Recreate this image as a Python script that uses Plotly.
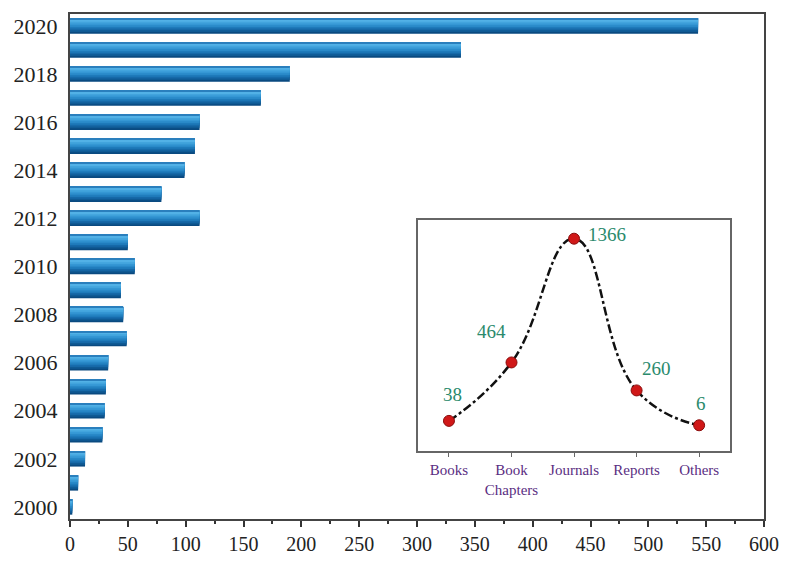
import plotly.graph_objects as go

# Publications per year
years = list(range(2000, 2021))
counts = [2, 7, 13, 28, 30, 31, 33, 49, 46, 44, 56, 50, 112, 79, 99, 108, 112, 165, 190, 338, 543]
year_ticks = list(range(2000, 2021, 2))
x_ticks = list(range(0, 601, 50))

# Publication types (inset)
doc_types = ["Books", "Book Chapters", "Journals", "Reports", "Others"]
doc_type_labels = ["Books", "Book<br>Chapters", "Journals", "Reports", "Others"]
doc_counts = [38, 464, 1366, 260, 6]
label_shifts = [(4, 26), (-20, 31), (33, 4), (20, 22), (2, 22)]

SERIF = "Liberation Serif, Times New Roman, serif"

fig = go.Figure()

# Shaded bars: nested layers from dark (bottom) to light (top), then a thin top edge
bar_h = 0.64
shades = ["#0a4a80", "#0f5a94", "#1669a8", "#1e7aba", "#2989c8", "#3597d4", "#42a4dd", "#52b1e6"]
n = len(shades)
for i, c in enumerate(shades):
    off = -bar_h / 2 + i * bar_h / (n + 1)
    fig.add_trace(go.Bar(
        x=counts, y=years, orientation="h",
        width=bar_h / 2 - off, offset=off,
        marker=dict(color=c, line=dict(width=0)),
        showlegend=False, hoverinfo="x+y",
    ))
edge = bar_h * 0.07
fig.add_trace(go.Bar(
    x=counts, y=years, orientation="h",
    width=edge, offset=bar_h / 2 - edge,
    marker=dict(color="#2a7fbd", line=dict(width=0)),
    showlegend=False, hoverinfo="skip",
))

# Inset curve
fig.add_trace(go.Scatter(
    x=doc_types, y=doc_counts, xaxis="x2", yaxis="y2",
    mode="lines+markers",
    line=dict(color="#111111", width=2.5, dash="dashdot", shape="spline", smoothing=1.3),
    marker=dict(size=11, color="#d01818", line=dict(color="#8a0c0c", width=1)),
    showlegend=False,
))

for t, v, (dx, dy) in zip(doc_types, doc_counts, label_shifts):
    fig.add_annotation(
        x=t, y=v, xref="x2", yref="y2", text=str(v), showarrow=False,
        xshift=dx, yshift=dy,
        font=dict(family=SERIF, size=19, color="#2a8a6c"),
    )

fig.update_layout(
    width=791, height=567,
    margin=dict(l=70, r=16, t=13, b=39),
    barmode="overlay",
    plot_bgcolor="white", paper_bgcolor="white",
    font=dict(family=SERIF, color="#222222"),
    xaxis=dict(
        range=[0, 600], tickvals=x_ticks, showgrid=False, zeroline=False,
        showline=True, linecolor="#444444", linewidth=2, mirror=True,
        ticks="outside", ticklen=6, tickwidth=2, tickcolor="#333333",
        minor=dict(dtick=25, ticks="outside", ticklen=3, tickwidth=2, tickcolor="#333333"),
        tickfont=dict(family=SERIF, size=20, color="#222222"),
    ),
    yaxis=dict(
        range=[1999.5, 2020.5], tickvals=year_ticks, showgrid=False, zeroline=False,
        showline=True, linecolor="#444444", linewidth=2, mirror=True,
        ticks="", tickfont=dict(family=SERIF, size=22, color="#222222"),
        ticklabelstandoff=6,
    ),
    xaxis2=dict(
        domain=[0.501, 0.9516], anchor="y2", range=[-0.5, 4.5],
        tickvals=doc_types, ticktext=doc_type_labels,
        showgrid=False, zeroline=False,
        showline=True, linecolor="#666666", linewidth=1.5, mirror=True,
        ticks="outside", ticklen=4, tickwidth=1, tickcolor="#666666",
        tickfont=dict(family=SERIF, size=15, color="#5a2d82"),
    ),
    yaxis2=dict(
        domain=[0.134, 0.592], anchor="x2", range=[-184, 1502],
        showgrid=False, zeroline=False, showticklabels=False, ticks="",
        showline=True, linecolor="#666666", linewidth=1.5, mirror=True,
    ),
)

fig.write_html("out.html")
